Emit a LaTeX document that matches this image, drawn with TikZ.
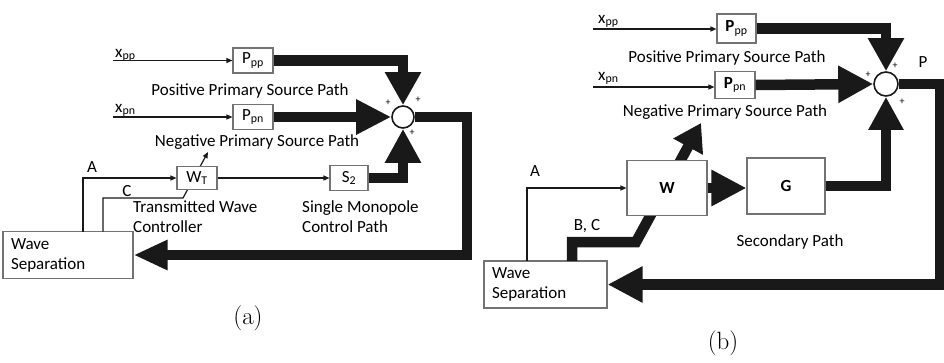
\documentclass[tikz,border=0pt]{standalone}
\usepackage{fontspec}
\newfontfamily\diafont{Carlito}
\usetikzlibrary{arrows.meta,positioning}

\newcommand{\dfont}{\diafont\fontsize{17}{20}\selectfont}

\tikzset{
  blk/.style={draw=black!55, line width=1.1pt, fill=white, inner sep=0pt, font=\dfont},
  wsbox/.style={blk, align=left, inner xsep=8pt, font=\dfont},
  sumnode/.style={circle, draw=black!90, line width=1.6pt, fill=white, inner sep=0pt},
  sig/.style={line width=1.2pt, draw=black!90, -{Triangle[length=6pt,width=5pt]}},
  bigsig/.style={line width=10.5pt, draw=black!90},
  lbl/.style={font=\dfont, inner sep=0pt},
  pm/.style={font=\diafont\fontsize{10}{10}\selectfont, inner sep=0pt},
  sublabel/.style={font=\fontsize{25}{30}\selectfont, inner sep=0pt},
}

\begin{document}
\begin{tikzpicture}[x=1pt,y=-1pt]
\useasboundingbox (0,0) rectangle (944,362);

% (a) Wave separation and transmitted wave controller
\node[wsbox, minimum height=47pt, text width=114pt] (WSa) at (68,255) {Wave\\Separation};
\coordinate (Aa) at (83,231.5);
\coordinate (Ca) at (103,231.5);
\coordinate (Ca1) at (183,198);
\coordinate (Ca2) at (208,152);
\draw[sig] (Ca) |- (Ca1) -- (Ca2);
\node[blk, minimum width=40pt, minimum height=23pt] (WTa) at (197,178) {W\textsubscript{T}};
\node[blk, minimum width=40pt, minimum height=25pt] (Pppa) at (253,60.5) {P\textsubscript{pp}};
\node[blk, minimum width=40pt, minimum height=25pt] (Ppna) at (253,117) {P\textsubscript{pn}};
\node[blk, minimum width=38pt, minimum height=25pt] (S2a) at (349,178) {S\textsubscript{2}};
\node[sumnode, minimum size=22pt] (suma) at (403,117) {};
\coordinate (xppa) at (113,60.5);
\coordinate (xpna) at (113,117);

\node[lbl, anchor=base west] (xppla) at (115,57) {x\textsubscript{pp}};
\node[lbl, anchor=base west] (xpnla) at (115,112) {x\textsubscript{pn}};
\draw[sig] (xppa) -- (Pppa.west);
\draw[sig] (xpna) -- (Ppna.west);
\draw[sig] (Aa) |- (WTa.west);
\draw[sig] (WTa.east) -- (S2a.west);

\draw[bigsig, -{Triangle[length=33pt,width=34pt]}] (Pppa.east) -| (suma.north);
\draw[bigsig, -{Triangle[length=35pt,width=33pt]}] (Ppna.east) -- (suma.west);
\draw[bigsig, -{Triangle[length=34pt,width=34pt]}] (S2a.east) -| (suma.south);
\draw[bigsig, -{Triangle[length=34pt,width=28pt]}] (suma.east) -- ++(52,0) |- (WSa.east);

\node[lbl] (ppsa) at (250,91) {Positive Primary Source Path};
\node[lbl] (npsa) at (257,142) {Negative Primary Source Path};
\node[lbl] (Ala) at (92,167) {A};
\node[lbl] (Cla) at (127,191) {C};
\node[lbl, anchor=west, align=left] (twca) at (133,217) {Transmitted Wave\\Controller};
\node[lbl, anchor=west, align=left] (smca) at (302,217) {Single Monopole\\Control Path};
\node[pm] (p1a) at (388,103) {+};
\node[pm] (p2a) at (418,100) {+};
\node[pm] (p3a) at (412,133) {+};
\node[sublabel] (capa) at (248,318) {(a)};

% (b) Wave separation with W and G
\node[wsbox, minimum height=47pt, text width=107pt] (WSb) at (545.5,284.5) {Wave\\Separation};
\coordinate (Ab) at (527,261);
\coordinate (BCb) at (572,261);
\coordinate (BCb1) at (636,242);
\coordinate (BCb2) at (701,123);
\draw[bigsig, -{Triangle[length=27pt,width=32pt]}] (BCb) |- (BCb1) -- (BCb2);
\node[blk, minimum width=80pt, minimum height=55pt] (Wb) at (667,188) {\textbf{W}};
\node[blk, minimum width=78pt, minimum height=56pt] (Gb) at (786,186) {\textbf{G}};
\node[blk, minimum width=39pt, minimum height=29pt] (Pppb) at (736.5,28.5) {\textbf{P}\textsubscript{pp}};
\node[blk, minimum width=40pt, minimum height=27pt] (Ppnb) at (735,85) {\textbf{P}\textsubscript{pn}};
\node[sumnode, minimum size=24pt] (sumb) at (886,84) {};
\coordinate (xppb) at (593,29);
\coordinate (xpnb) at (593,87);

\node[lbl, anchor=base west] (xpplb) at (598,23) {x\textsubscript{pp}};
\node[lbl, anchor=base west] (xpnlb) at (598,80) {x\textsubscript{pn}};
\draw[sig] (xppb) -- (xppb -| Pppb.west);
\draw[sig] (xpnb) -- (xpnb -| Ppnb.west);
\draw[sig] (Ab) |- (Wb.west);

\draw[bigsig, -{Triangle[length=35pt,width=34pt]}] (Wb.east) -- (Wb.east -| Gb.west);
\draw[bigsig, -{Triangle[length=33pt,width=34pt]}] (Pppb.east) -| (sumb.north);
\draw[bigsig, -{Triangle[length=35pt,width=35pt]}] (Ppnb.east) -- (sumb.west);
\draw[bigsig, -{Triangle[length=33pt,width=33pt]}] (Gb.east) -| (sumb.south);
\draw[bigsig, -{Triangle[length=35pt,width=34pt]}] (sumb.east) -- ++(41,0) |- (WSb.east);

\node[lbl] (ppsb) at (727,58) {Positive Primary Source Path};
\node[lbl] (npsb) at (725,112) {Negative Primary Source Path};
\node[lbl] (Alb) at (535,171) {A};
\node[lbl] (BClb) at (587,226) {B, C};
\node[lbl] (Plb) at (923,62) {P};
\node[lbl] (spb) at (790,242) {Secondary Path};
\node[pm] (p1b) at (868,75) {+};
\node[pm] (p2b) at (895,66) {+};
\node[pm] (p3b) at (902,102) {+};
\node[sublabel] (capb) at (723,343) {(b)};
\end{tikzpicture}
\end{document}
